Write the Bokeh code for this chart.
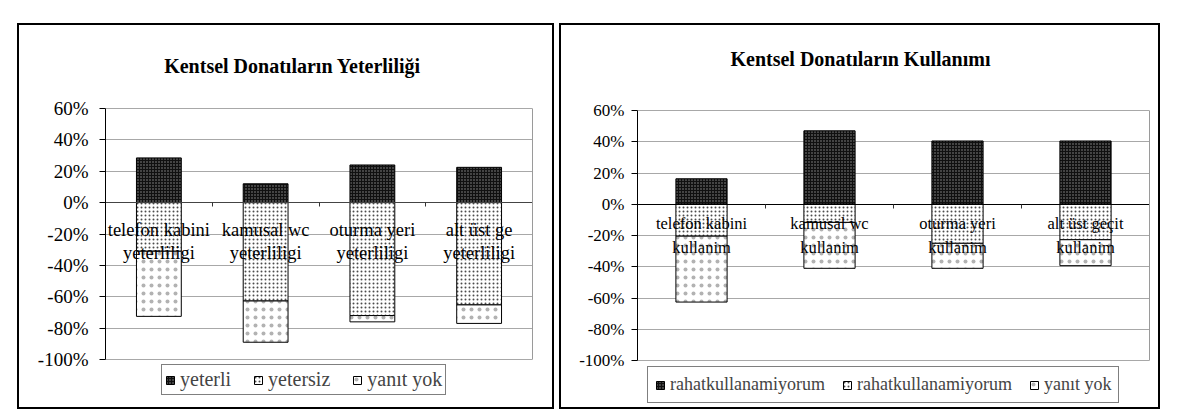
from bokeh.plotting import figure
from bokeh.models import (Range1d, LinearAxis, FixedTicker, PrintfTickFormatter,
                          Legend, LegendItem, ColumnDataSource, Spacer, Label)
from bokeh.layouts import row, column
from bokeh.embed import file_html
from bokeh.resources import INLINE
from bokeh.core.properties import value

# ---------------- data ----------------
left_title = "Kentsel Donatıların Yeterliliği"
left_categories = ["telefon kabini yeterliligi", "kamusal wc yeterliligi",
                   "oturma yeri yeterliligi", "alt üst ge yeterliligi"]
left_series = ["yeterli", "yetersiz", "yanıt yok"]
left_yeterli = [28.5, 12.0, 24.0, 22.5]
left_yetersiz = [31.0, 62.7, 72.0, 65.2]
left_yanit_yok = [41.5, 26.3, 4.0, 11.8]

right_title = "Kentsel Donatıların Kullanımı"
right_categories = ["telefon kabini kullanim", "kamusal wc kullanim",
                    "oturma yeri kullanim", "alt üst geçit kullanim"]
right_series = ["rahatkullanamiyorum", "rahatkullanamiyorum", "yanıt yok"]
right_rahat = [16.3, 47.0, 40.5, 40.5]
right_rahat_degil = [20.4, 11.6, 25.0, 22.7]
right_yanit_yok = [42.2, 29.4, 16.0, 16.6]

y_ticks = [-100, -80, -60, -40, -20, 0, 20, 40, 60]
y_min, y_max = -100, 60

FONT = "'Liberation Serif', 'Times New Roman', serif"


def build(cats, pos, neg1, neg2, names, title, cfg):
    n = len(cats)
    line1 = [c.rsplit(" ", 1)[0] for c in cats]
    line2 = [c.rsplit(" ", 1)[1] for c in cats]
    src = ColumnDataSource(dict(x=[i + 0.5 for i in range(n)], pos=pos,
                                neg1=[-v for v in neg1], neg2=[-v for v in neg2],
                                l1=line1, l2=line2, zero=[0] * n))
    src.data["neg12"] = [a + b for a, b in zip(src.data["neg1"], src.data["neg2"])]

    # the frame also holds title and legend; the value area spans y_min..y_max
    bt, bb, h = cfg["bt"], cfg["bb"], cfg["h"]
    f_top, f_bot = bt, h - bb                       # frame in canvas px
    a_top, a_bot = cfg["area_top"], cfg["area_bot"]  # value area in canvas px
    upp = (y_max - y_min) / (a_bot - a_top)
    y_end = y_max + (a_top - f_top) * upp
    y_start = y_min - (f_bot - a_bot) * upp

    p = figure(x_range=Range1d(0, n), y_range=Range1d(y_start, y_end),
               width=cfg["w"], height=h, output_backend="svg",
               toolbar_location=None, x_axis_location=None, y_axis_location=None,
               min_border_left=cfg["bl"], min_border_right=cfg["br"],
               min_border_top=bt, min_border_bottom=bb,
               styles={"border": "2px solid black"})
    p.outline_line_color = None
    p.background_fill_color = "white"
    p.border_fill_color = "white"

    yax = LinearAxis(ticker=FixedTicker(ticks=y_ticks), bounds=(y_min, y_max),
                     formatter=PrintfTickFormatter(format="%d%%"))
    yax.major_label_text_font = FONT
    yax.major_label_text_font_size = cfg["tick_fs"]
    yax.major_label_text_color = "black"
    yax.major_tick_out = 6
    yax.major_tick_in = 0
    yax.minor_tick_line_color = None
    yax.axis_line_color = "black"
    yax.major_tick_line_color = "black"
    yax.major_label_standoff = cfg["standoff"]
    p.add_layout(yax, "left")

    # grey right edge of the value area
    rax = LinearAxis(ticker=FixedTicker(ticks=[]), bounds=(y_min, y_max))
    rax.axis_line_color = "#9a9a9a"
    rax.major_tick_line_color = None
    rax.minor_tick_line_color = None
    rax.major_label_text_font_size = "1px"
    p.add_layout(rax, "right")

    p.xgrid.grid_line_color = None
    p.ygrid.grid_line_color = "#a8a8a8"
    p.ygrid.grid_line_width = 1
    p.ygrid.ticker = FixedTicker(ticks=y_ticks)

    w = cfg["bar_w"]
    r_pos = p.vbar(x="x", top="pos", bottom=0, width=w, source=src,
                   fill_color="#101010", line_color="black", line_width=1,
                   hatch_pattern="dot", hatch_color="white", hatch_scale=3,
                   hatch_alpha=0.55, hatch_weight=1)
    r_n1 = p.vbar(x="x", top=0, bottom="neg1", width=w, source=src,
                  fill_color="white", line_color="black", line_width=1,
                  hatch_pattern="dot", hatch_color="black", hatch_scale=4,
                  hatch_alpha=0.7, hatch_weight=1)
    r_n2 = p.vbar(x="x", top="neg1", bottom="neg12", width=w, source=src,
                  fill_color="white", line_color="black", line_width=1,
                  hatch_pattern="dot", hatch_color="black", hatch_scale=8,
                  hatch_alpha=0.3, hatch_weight=1)

    # category boundary ticks on the zero line
    xax = LinearAxis(ticker=FixedTicker(ticks=list(range(1, n))), fixed_location=0,
                     major_label_overrides={i: "" for i in range(1, n)})
    xax.major_tick_out = 4
    xax.major_tick_in = 0
    xax.minor_tick_line_color = None
    xax.axis_line_color = cfg["zero_color"]
    xax.major_tick_line_color = "#333333"
    xax.major_label_text_font_size = "1px"
    p.add_layout(xax, "below")

    p.text(x="x", y="zero", text="l1", source=src, y_offset=cfg["off1"],
           text_align="center", text_baseline="middle",
           text_font=value(FONT), text_font_size=cfg["cat_fs"], text_color="black")
    p.text(x="x", y="zero", text="l2", source=src, y_offset=cfg["off2"],
           text_align="center", text_baseline="middle",
           text_font=value(FONT), text_font_size=cfg["cat_fs"], text_color="black")

    p.add_layout(Label(x=cfg["tx"], y=cfg["ty"], x_units="screen", y_units="screen",
                       text=title, text_font=FONT, text_font_style="bold",
                       text_font_size="20px", text_align="center", text_baseline="middle",
                       text_color="black"))

    items = [LegendItem(label=value(names[0]), renderers=[r_pos]),
             LegendItem(label=value(names[1]), renderers=[r_n1]),
             LegendItem(label=value(names[2]), renderers=[r_n2])]
    leg = Legend(items=items, orientation="horizontal", location=cfg["leg_loc"],
                 glyph_width=10, glyph_height=10, label_standoff=5,
                 spacing=cfg["leg_sp"], padding=cfg["leg_pad"], margin=0,
                 label_text_font=FONT, label_text_font_size=cfg["leg_fs"],
                 label_height=18, border_line_color="black", border_line_width=1,
                 background_fill_color="white", background_fill_alpha=1)
    p.add_layout(leg, "center")
    return p


# canvas px (box top-left = 0,0)
left_cfg = dict(w=537, h=386, bl=86, br=24, bt=12, bb=6, area_top=83, area_bot=334,
                tick_fs="19px", standoff=11, bar_w=0.42, zero_color="#444444",
                off1=27, off2=50, cat_fs="18.5px", tx=187, ty=340,
                leg_loc=(56, 10), leg_sp=22, leg_pad=3, leg_fs="20px")
right_cfg = dict(w=601, h=386, bl=76, br=13, bt=12, bb=6, area_top=85, area_bot=335,
                 tick_fs="17px", standoff=7, bar_w=0.40, zero_color="black",
                 off1=19, off2=43, cat_fs="16.5px", tx=223, ty=347,
                 leg_loc=(10, 2), leg_sp=17, leg_pad=7, leg_fs="18px")

p1 = build(left_categories, left_yeterli, left_yetersiz, left_yanit_yok,
           left_series, left_title, left_cfg)
p2 = build(right_categories, right_rahat, right_rahat_degil, right_yanit_yok,
           right_series, right_title, right_cfg)

layout = column(Spacer(width=10, height=23),
                row(Spacer(width=17, height=10), p1, Spacer(width=5, height=10), p2))

open("out.html", "w").write(file_html(layout, INLINE))
